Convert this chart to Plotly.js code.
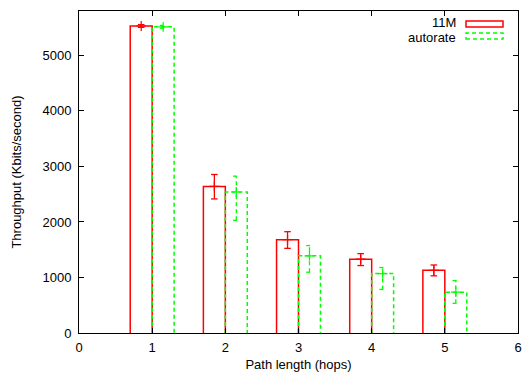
<!DOCTYPE html>
<html>
<head>
<meta charset="utf-8">
<script src="https://cdn.plot.ly/plotly-3.0.1.min.js"></script>
<style>html,body{margin:0;padding:0;background:#fff}#chart{width:522px;height:373px}</style>
</head>
<body>
<div id="chart"></div>
<script>
// ---- data ----
const hops = [1, 2, 3, 4, 5];
const seriesNames = ["11M", "autorate"];
const tput11M = [5530, 2640, 1680, 1330, 1130];
const err11MPlus = [25, 215, 145, 100, 95];
const err11MMinus = [25, 225, 155, 115, 100];
const tputAuto = [5515, 2540, 1390, 1070, 735];
const errAutoPlus = [25, 285, 185, 110, 210];
const errAutoMinus = [25, 510, 295, 285, 200];
const xTickVals = [0, 1, 2, 3, 4, 5, 6];
const yTickVals = [0, 1000, 2000, 3000, 4000, 5000];

// ---- style ----
const RED = "#ff0000", GREEN = "#00ff00";
const BOX_W = 0.3, CAP = 0.045;
const FONT = {family: "Liberation Sans, Arial, sans-serif", size: 13, color: "#000"};

function boxTrace(vals, offset, color, dash) {
  const xs = [], ys = [];
  hops.forEach((h, i) => {
    const xl = h + offset, xr = xl + BOX_W;
    xs.push(xl, xl, xr, xr, null);
    ys.push(0, vals[i], vals[i], 0, null);
  });
  return {x: xs, y: ys, mode: "lines", type: "scatter", showlegend: false, hoverinfo: "skip",
    line: {color: color, width: 1.5, dash: dash}, connectgaps: false};
}
function errTrace(vals, plus, minus, offset, color, dash) {
  const xs = [], ys = [];
  hops.forEach((h, i) => {
    const xc = h + offset + BOX_W / 2;
    const hi = vals[i] + plus[i], lo = vals[i] - minus[i];
    xs.push(xc, xc, null, xc - CAP, xc + CAP, null, xc - CAP, xc + CAP, null);
    ys.push(lo, hi, null, hi, hi, null, lo, lo, null);
  });
  return {x: xs, y: ys, mode: "lines", type: "scatter", showlegend: false, hoverinfo: "skip",
    line: {color: color, width: 1.3, dash: dash}, connectgaps: false};
}
function ptTrace(vals, offset, color) {
  return {x: hops.map(h => h + offset + BOX_W / 2), y: vals, mode: "markers", type: "scatter",
    showlegend: false, hoverinfo: "skip",
    marker: {symbol: "cross-thin-open", size: 7, color: color, line: {color: color, width: 1.2}}};
}

const data = [
  boxTrace(tput11M, -BOX_W, RED, "solid"),
  errTrace(tput11M, err11MPlus, err11MMinus, -BOX_W, RED, "solid"),
  ptTrace(tput11M, -BOX_W, RED),
  boxTrace(tputAuto, 0, GREEN, "4px,3px"),
  errTrace(tputAuto, errAutoPlus, errAutoMinus, 0, GREEN, "4px,3px"),
  ptTrace(tputAuto, 0, GREEN)
];

const axisCommon = {showgrid: false, zeroline: false, showline: true, linecolor: "#000", linewidth: 1,
  mirror: "allticks", ticks: "inside", ticklen: 5, tickcolor: "#000", tickwidth: 1,
  tickfont: FONT, fixedrange: true};

const layout = {
  width: 522, height: 373,
  margin: {l: 79, r: 4, t: 11, b: 40},
  paper_bgcolor: "#fff", plot_bgcolor: "#fff",
  font: FONT,
  showlegend: false,
  xaxis: Object.assign({}, axisCommon, {range: [0, 6], tickvals: xTickVals,
    ticktext: xTickVals.map(String), ticklabelstandoff: 2,
    title: {text: "Path length (hops)", font: FONT, standoff: 6}}),
  yaxis: Object.assign({}, axisCommon, {range: [0, 5800], tickvals: yTickVals,
    ticktext: yTickVals.map(String), ticklabelstandoff: 4,
    title: {text: "Throughput (Kbits/second)", font: FONT, standoff: 17}}),
  annotations: [
    {xref: "paper", yref: "paper", x: (457 - 79) / 439, y: (333 - 22) / 322, xanchor: "right", yanchor: "middle",
      text: seriesNames[0], showarrow: false, font: FONT, borderpad: 0},
    {xref: "paper", yref: "paper", x: (457 - 79) / 439, y: (333 - 37) / 322, xanchor: "right", yanchor: "middle",
      text: seriesNames[1], showarrow: false, font: FONT, borderpad: 0}
  ],
  shapes: [
    {type: "rect", xref: "paper", yref: "paper", x0: (466 - 79) / 439, x1: (503 - 79) / 439,
      y0: (333 - 27) / 322, y1: (333 - 21) / 322, line: {color: RED, width: 1.5}},
    {type: "rect", xref: "paper", yref: "paper", x0: (466 - 79) / 439, x1: (503 - 79) / 439,
      y0: (333 - 39) / 322, y1: (333 - 33) / 322, line: {color: GREEN, width: 1.5, dash: "4px,3px"}}
  ]
};

Plotly.newPlot("chart", data, layout, {displayModeBar: false, staticPlot: true});
</script>
</body>
</html>
